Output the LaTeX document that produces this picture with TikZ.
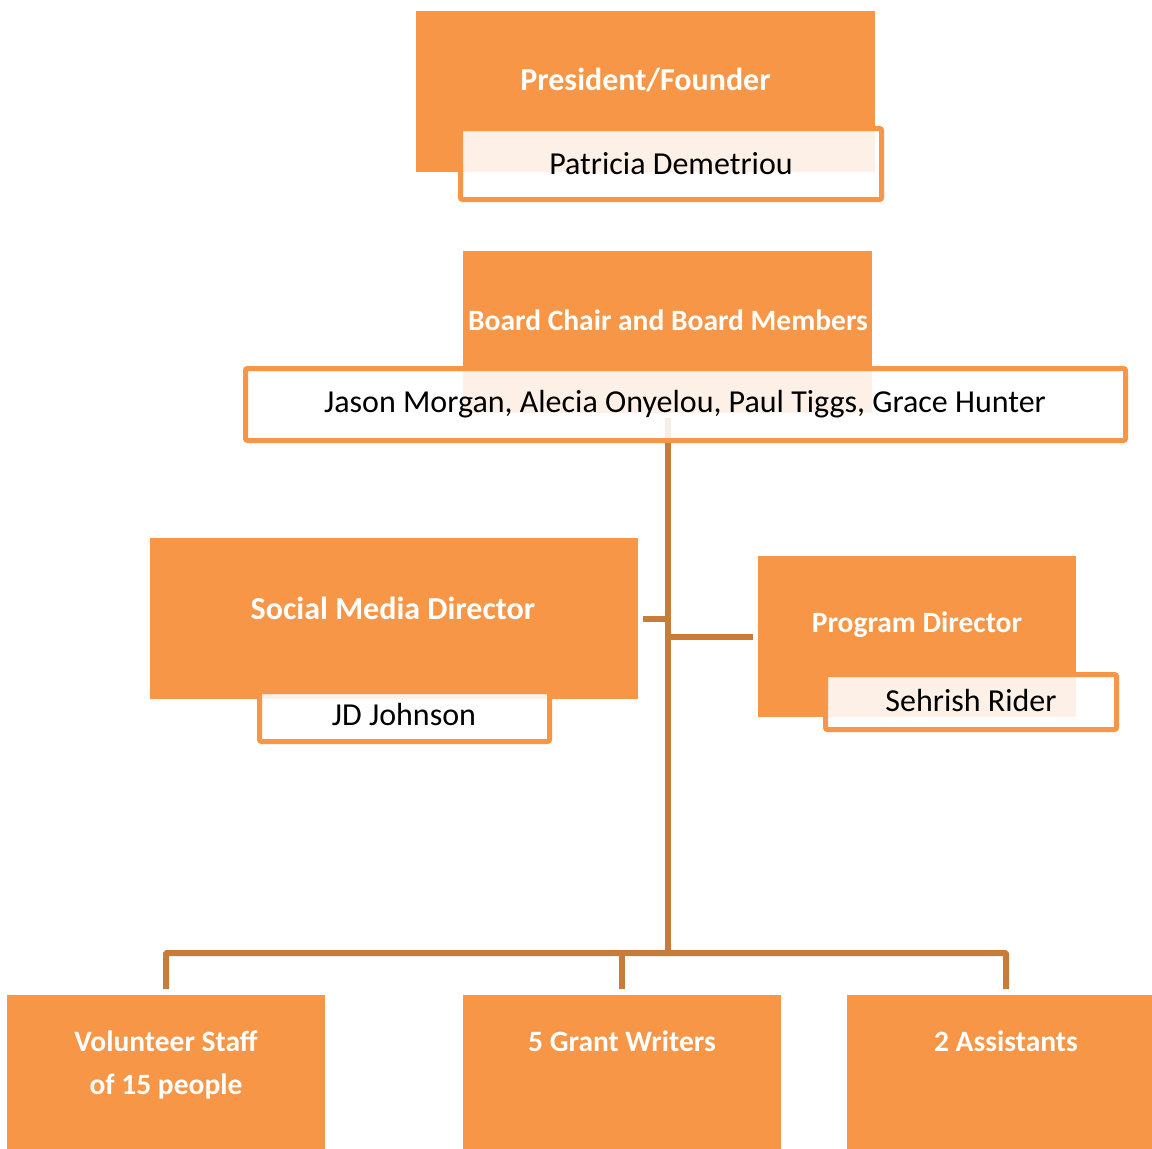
\documentclass[tikz,border=0pt]{standalone}
\usepackage{fontspec}
\setmainfont{Carlito}
\begin{document}
\begin{tikzpicture}[x=1pt,y=-1pt,
  every node/.style={inner sep=0pt, outer sep=0pt},
  orangebox/.style={fill=boxorange, draw=none, rectangle},
  namebox/.style={draw=boxorange, line width=5pt, rounded corners=2pt, fill=white, fill opacity=0.87, rectangle},
  titletext/.style={text=white, font=\bfseries\fontsize{29.5}{34}\selectfont},
  bigtitletext/.style={text=white, font=\bfseries\fontsize{32}{36}\selectfont},
  nametext/.style={text=black, font=\fontsize{32}{36}\selectfont},
  conn/.style={draw=connorange, line width=6pt}
]
\definecolor{boxorange}{RGB}{247,150,70}
\definecolor{connorange}{RGB}{200,124,58}
\useasboundingbox (0,0) rectangle (1152,1149);
\fill[white] (0,0) rectangle (1152,1149);

% President
\node[orangebox, minimum width=459pt, minimum height=161pt, anchor=north west] (pres) at (416,11) {};
\node[namebox, minimum width=421pt, minimum height=71pt, anchor=north west] (presname) at (460.5,128.5) {};
\node[bigtitletext] (prestxt) at (645.5,80) {President/Founder};
\node[nametext] (presnametxt) at (671,164) {Patricia Demetriou};

% Board
\node[orangebox, minimum width=409pt, minimum height=162pt, anchor=north west] (board) at (463,251) {};
\coordinate (trunktop) at (668,418);
\coordinate (busmid) at (668,953);
\draw[conn] (trunktop) -- (busmid);
\node[namebox, minimum width=880pt, minimum height=72pt, anchor=north west] (boardnames) at (245.5,368.5) {};
\node[titletext] (boardtxt) at (668,320) {Board Chair and Board Members};
\node[nametext] (boardnamestxt) at (685,404) {Jason Morgan, Alecia Onyelou, Paul Tiggs, Grace Hunter};

% Social media
\node[orangebox, minimum width=488pt, minimum height=161pt, anchor=north west] (social) at (150,538) {};
\node[namebox, minimum width=290pt, minimum height=50pt, anchor=north west] (socialname) at (259.5,691.5) {};
\node[bigtitletext] (socialtxt) at (393,608) {Social Media Director};
\node[nametext] (socialnametxt) at (404,714) {JD Johnson};
\coordinate (stubend) at (643,619);
\draw[conn] (stubend) -- (stubend -| trunktop);

% Program director
\node[orangebox, minimum width=318pt, minimum height=161pt, anchor=north west] (prog) at (758,556) {};
\node[namebox, minimum width=291pt, minimum height=55pt, anchor=north west] (progname) at (825.5,674.5) {};
\node[titletext] (progtxt) at (917,625) {Program Director};
\node[nametext] (prognametxt) at (971,700) {Sehrish Rider};
\coordinate (progend) at (753,637);
\draw[conn] (progend -| trunktop) -- (progend);

% Bottom boxes
\node[orangebox, minimum width=318pt, minimum height=154pt, anchor=north west] (vol) at (7,995) {};
\node[orangebox, minimum width=318pt, minimum height=154pt, anchor=north west] (grant) at (463,995) {};
\node[orangebox, minimum width=305pt, minimum height=154pt, anchor=north west] (assist) at (847,995) {};
\node[titletext] (voltxt1) at (166,1041) {Volunteer Staff};
\node[titletext] (voltxt2) at (166,1086) {of 15 people};
\node[titletext] (granttxt) at (622,1041) {5 Grant Writers};
\node[titletext] (assisttxt) at (1006,1041) {2 Assistants};

% Bus
\coordinate (busleft) at (166,953);
\coordinate (busright) at (1006,953);
\coordinate (volin) at (166,989);
\coordinate (grantin) at (622,989);
\coordinate (assistin) at (1006,989);
\draw[conn, rounded corners=1pt] (volin) -- (busleft) -- (busright) -- (assistin);
\draw[conn] (grantin) -- (grantin |- busleft);
\end{tikzpicture}
\end{document}
